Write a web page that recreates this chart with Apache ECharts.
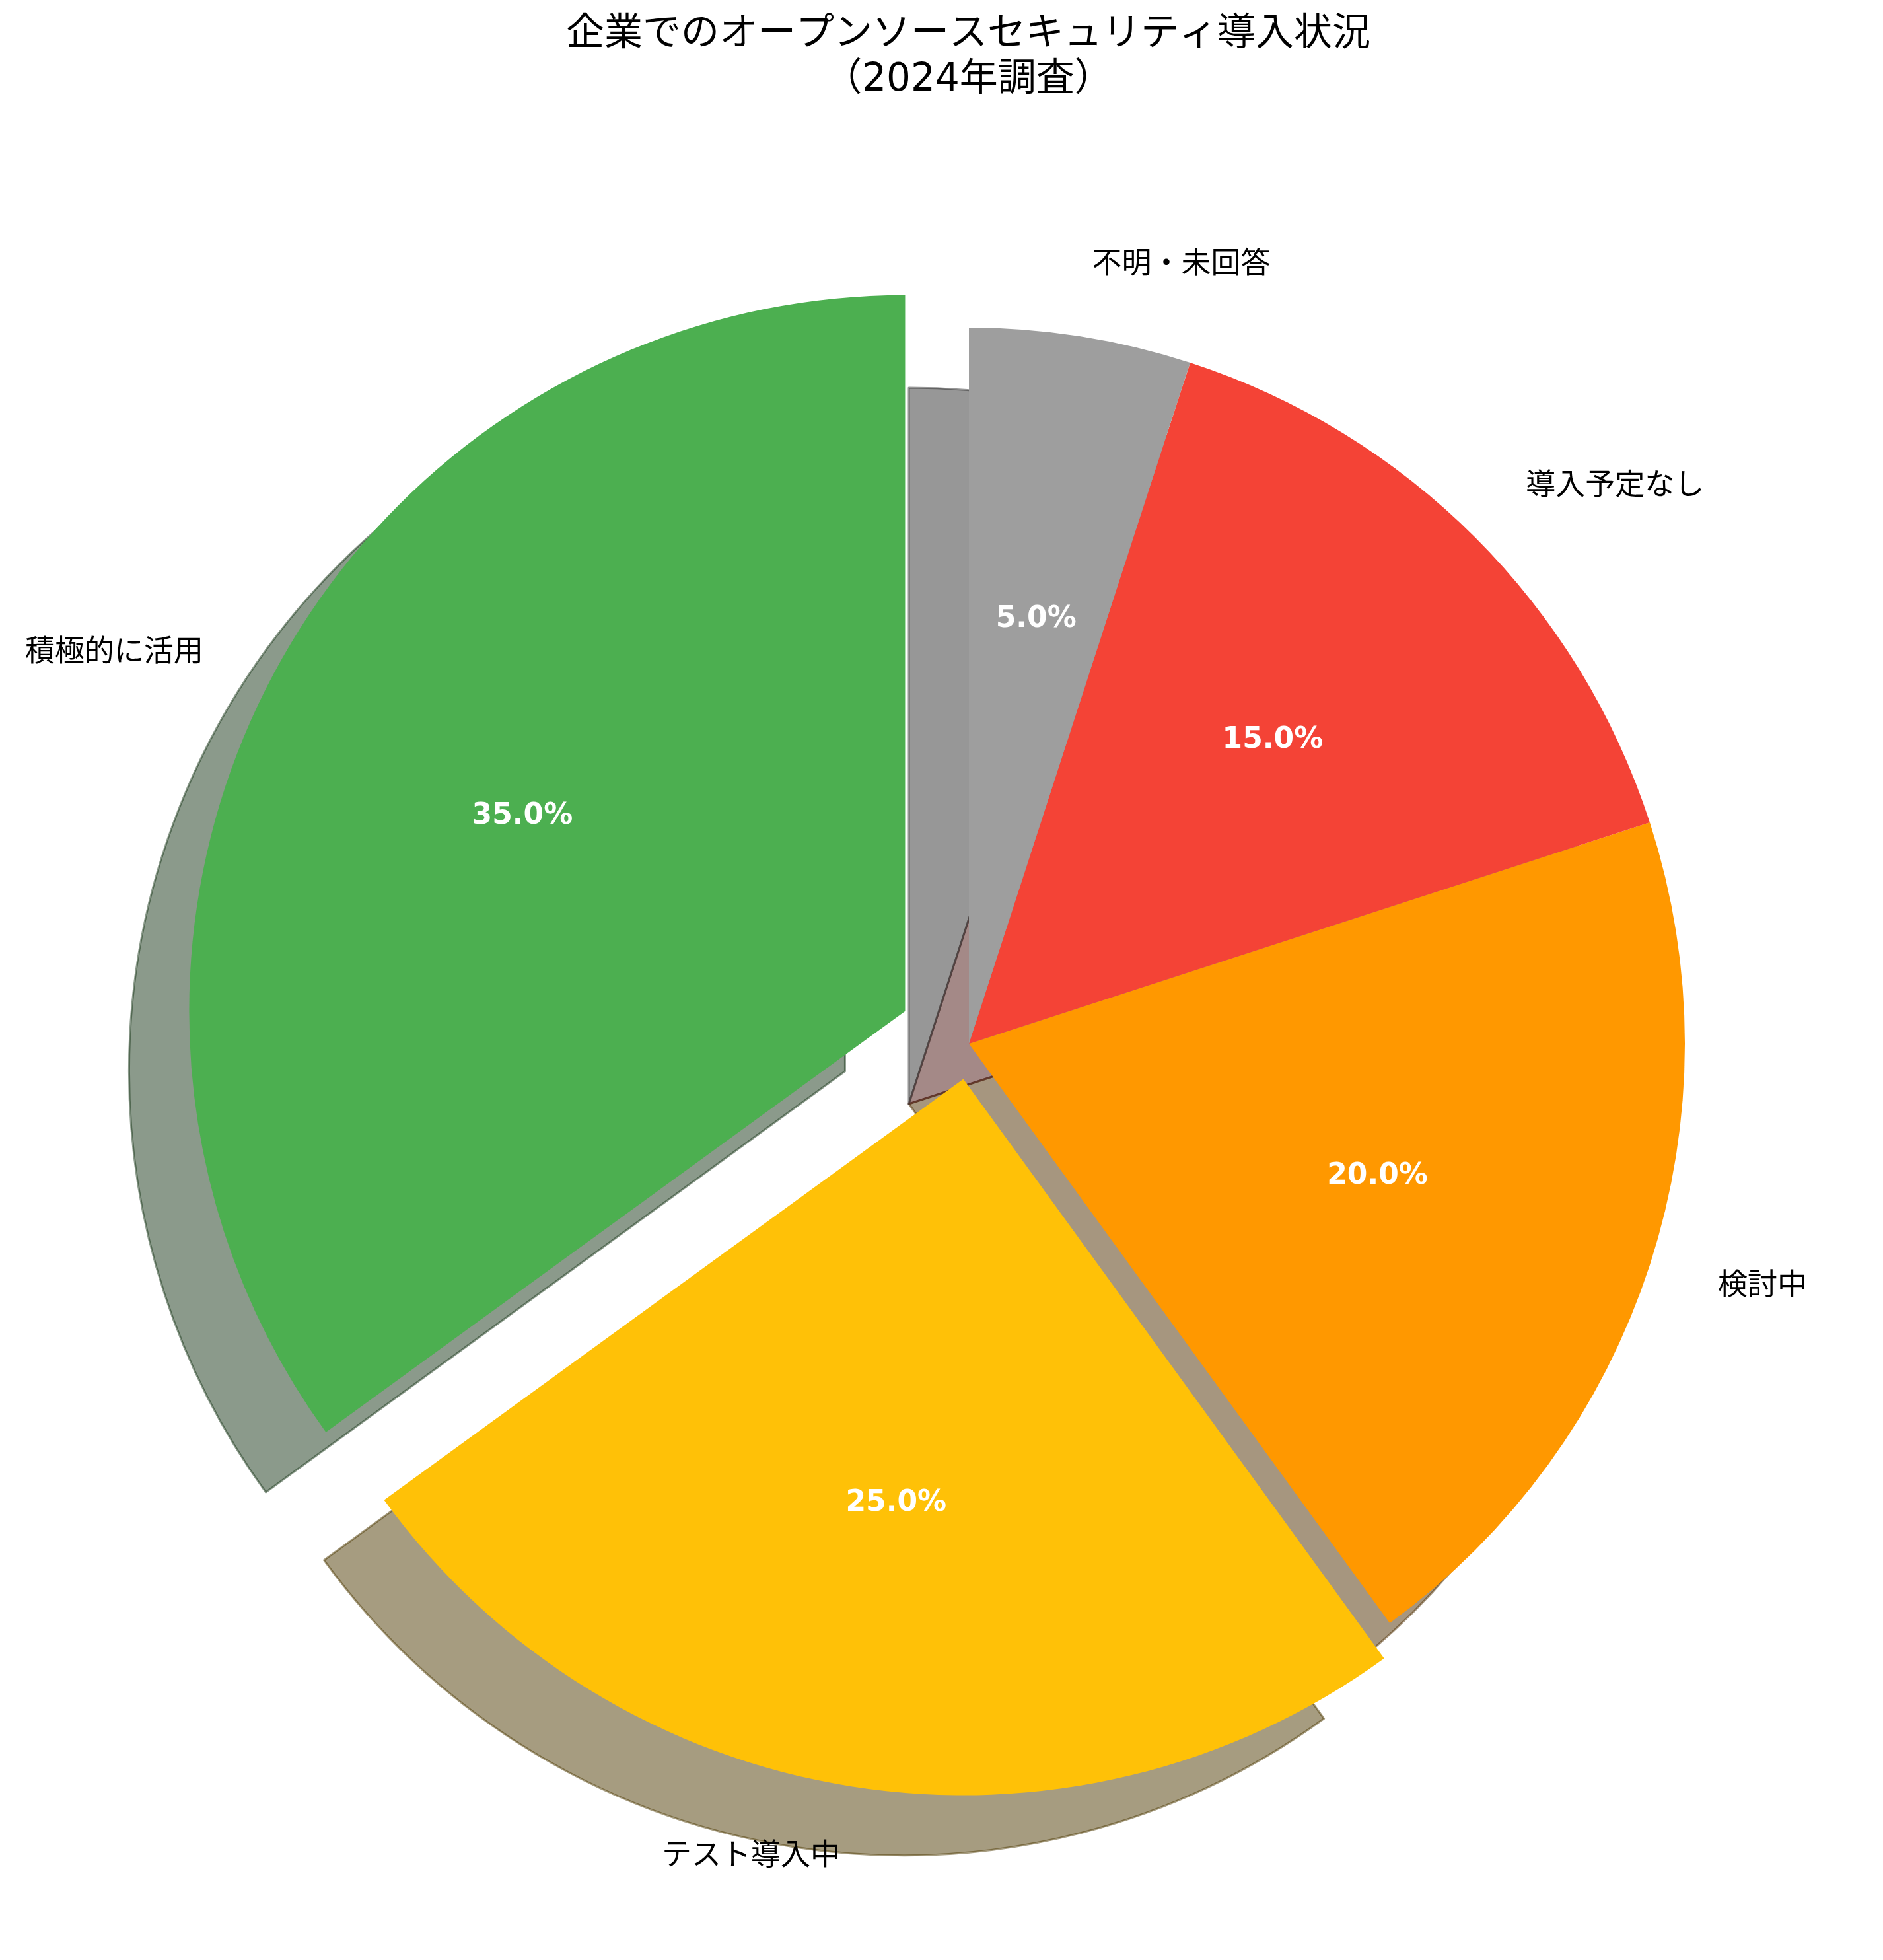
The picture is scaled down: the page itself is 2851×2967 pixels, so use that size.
<!DOCTYPE html>
<html>
	<head>
		<meta charset="utf-8">
		<title></title>
		<style type="text/css">
			* {
				margin: 0;
				padding: 0;
			}

			html,
			body {
				width: 100%;
				height: 100%;
				background: #fff;
			}

			#box {
				width: 2851px;
				height: 2967px;
			}
		</style>
	</head>
	<body>
		<div id="box"></div>
		<script src="https://cdn.jsdelivr.net/npm/echarts@6/dist/echarts.min.js"></script>
		<script>
			var labels = ['積極的に活用', 'テスト導入中', '検討中', '導入予定なし', '不明・未回答']
			var values = [35, 25, 20, 15, 5]
			var colors = ['#4CAF50', '#FFC107', '#FF9800', '#F44336', '#9E9E9E']
			var explode = [0.1, 0.05, 0, 0, 0]

			var R = 1084
			var cx = 1467
			var cy = 1580
			var shadowOff = 91
			var font = "'DejaVu Sans', 'Noto Sans CJK JP'"

			// shadow like matplotlib: 0.3 * colour, alpha 0.5
			function shadowColor(hex) {
				var r = parseInt(hex.substr(1, 2), 16)
				var g = parseInt(hex.substr(3, 2), 16)
				var b = parseInt(hex.substr(5, 2), 16)
				return 'rgba(' + Math.round(r * 0.3) + ',' + Math.round(g * 0.3) + ',' + Math.round(b * 0.3) + ',0.5)'
			}

			function buildData(i, kind) {
				var data = []
				for (let j = 0; j < labels.length; j++) {
					var item = {
						name: labels[j],
						value: values[j]
					}
					if (j != i) {
						item.itemStyle = { color: 'transparent', borderWidth: 0 }
						item.label = { show: false }
						item.select = { itemStyle: { color: 'transparent', borderWidth: 0 } }
					} else {
						var st
						if (kind == 'shadow') {
							st = { color: shadowColor(colors[j]), borderColor: shadowColor(colors[j]), borderWidth: 3 }
						} else if (kind == 'main') {
							st = { color: colors[j], borderWidth: 0 }
						} else {
							st = { color: 'transparent', borderWidth: 0 }
						}
						item.itemStyle = st
						item.select = { itemStyle: st }
						item.selected = explode[j] > 0
					}
					data.push(item)
				}
				return data
			}

			function makeSeries(i, kind) {
				var s = {
					type: 'pie',
					center: kind == 'shadow' ? [cx - shadowOff, cy + shadowOff] : [cx, cy],
					radius: kind == 'pct' ? [R * 0.2 - 6, R] : [0, R],
					startAngle: 90,
					clockwise: false,
					selectedMode: 'single',
					selectedOffset: explode[i] * R,
					avoidLabelOverlap: false,
					silent: true,
					emphasis: { disabled: true },
					data: buildData(i, kind)
				}
				if (kind == 'shadow') {
					s.label = { show: false }
					s.labelLine = { show: false }
				} else if (kind == 'main') {
					s.label = {
						show: true,
						position: 'outside',
						distanceToLabelLine: 0,
						fontFamily: font,
						fontSize: 45,
						color: '#000'
					}
					s.labelLine = { show: false, length: R * 0.1, length2: 0 }
				} else {
					s.label = {
						show: true,
						position: 'inside',
						fontFamily: 'DejaVu Sans',
						fontWeight: 'bold',
						fontSize: 44,
						color: '#fff',
						formatter: function(p) {
							return p.value.toFixed(1) + '%'
						}
					}
					s.labelLine = { show: false }
				}
				return s
			}

			var series = []
			var kinds = ['shadow', 'main', 'pct']
			for (let k = 0; k < kinds.length; k++) {
				for (let i = 0; i < labels.length; i++) {
					series.push(makeSeries(i, kinds[k]))
				}
			}

			var myChart = echarts.init(document.getElementById('box'))
			var option = {
				animation: false,
				backgroundColor: '#fff',
				title: {
					text: '企業でのオープンソースセキュリティ導入状況\n（2024年調査）',
					left: 1461,
					top: 13,
					textAlign: 'center',
					textStyle: {
						fontFamily: font,
						fontWeight: 'normal',
						fontSize: 58,
						lineHeight: 69,
						color: '#000'
					}
				},
				series: series
			}
			myChart.setOption(option)
		</script>
	</body>
</html>
